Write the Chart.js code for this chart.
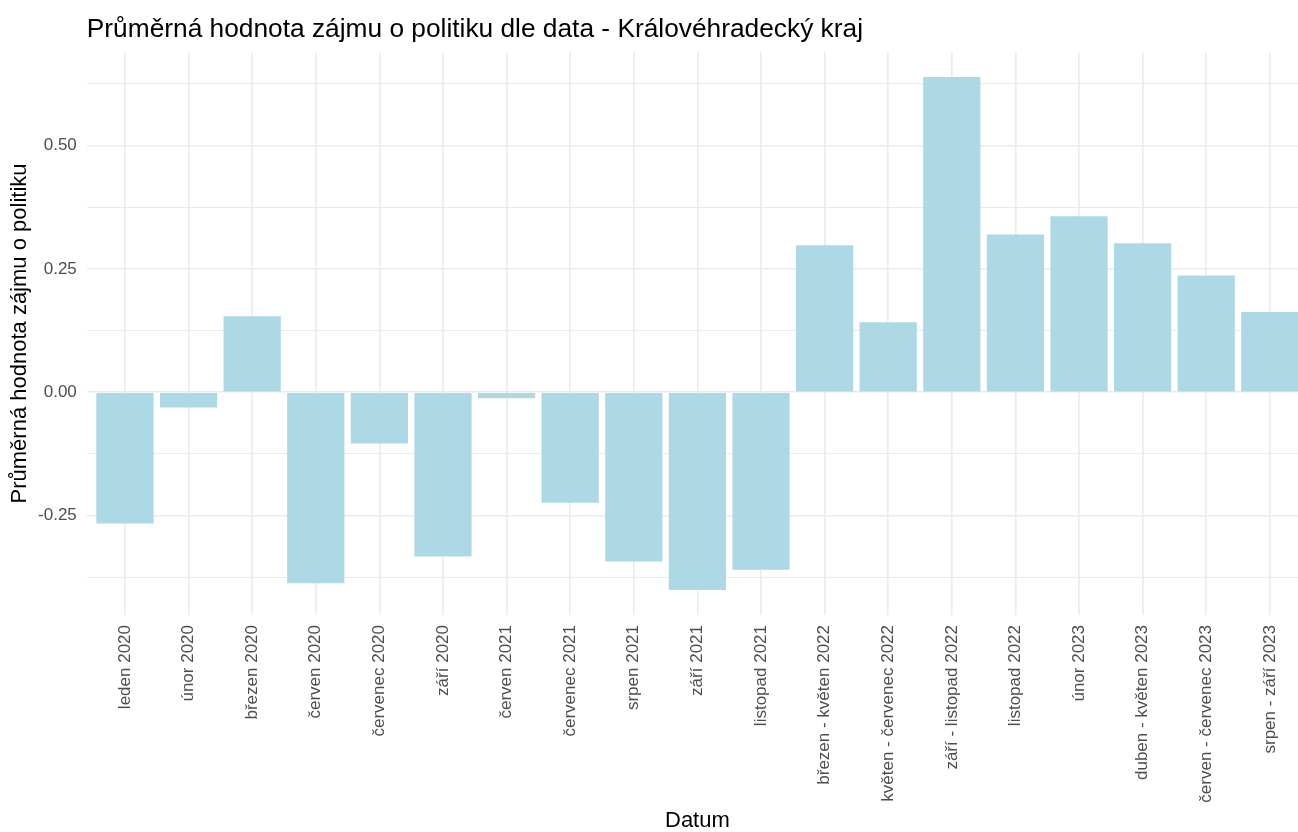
<!DOCTYPE html>
<html>
<head>
<meta charset="utf-8">
<script src="https://cdn.jsdelivr.net/npm/chart.js@4/dist/chart.umd.min.js"></script>
<style>
  html, body { margin: 0; padding: 0; background: #fff; overflow: hidden; }
  #wrap { width: 1298px; height: 832px; overflow: hidden; }
</style>
</head>
<body>
<div id="wrap"><canvas id="chart" width="1320" height="832"></canvas></div>
<script>
const TITLE = 'Průměrná hodnota zájmu o politiku dle data - Královéhradecký kraj';
const X_TITLE = 'Datum';
const Y_TITLE = 'Průměrná hodnota zájmu o politiku';

const CATEGORIES = [
  'leden 2020', 'únor 2020', 'březen 2020', 'červen 2020', 'červenec 2020',
  'září 2020', 'červen 2021', 'červenec 2021', 'srpen 2021', 'září 2021',
  'listopad 2021', 'březen - květen 2022', 'květen - červenec 2022',
  'září - listopad 2022', 'listopad 2022', 'únor 2023', 'duben - květen 2023',
  'červen - červenec 2023', 'srpen - září 2023'
];
const VALUES = [
  -0.266, -0.031, 0.154, -0.387, -0.104,
  -0.333, -0.012, -0.224, -0.343, -0.401,
  -0.360, 0.298, 0.142,
  0.639, 0.320, 0.357, 0.302,
  0.237, 0.163
];
const Y_MIN = -0.4515;
const Y_MAX = 0.690;
const Y_STEP = 0.125;

const GRID = '#EBEBEB';
const TICK_COLOR = '#4D4D4D';
const FONT = '"Liberation Sans", Arial, Helvetica, sans-serif';

const isMajor = v => Math.abs(Math.round(v / 0.25) * 0.25 - v) < 1e-6;

new Chart(document.getElementById('chart'), {
  type: 'bar',
  data: {
    datasets: [{
      data: CATEGORIES.map((c, i) => ({ x: i, y: VALUES[i] })),
      backgroundColor: '#ADD8E6',
      borderWidth: 0,
      barPercentage: 0.9,
      categoryPercentage: 1.0
    }]
  },
  options: {
    responsive: false,
    animation: false,
    layout: { padding: { left: 0, right: 12, top: 0, bottom: 0 } },
    plugins: {
      legend: { display: false },
      tooltip: { enabled: false },
      title: {
        display: true,
        text: TITLE,
        align: 'start',
        fullSize: false,
        color: '#000',
        font: { family: FONT, size: 26.3, weight: 'normal' },
        padding: { top: 14, bottom: 6.4 }
      }
    },
    scales: {
      x: {
        type: 'linear',
        min: -0.6,
        max: 18.6,
        offset: false,
        afterBuildTicks: s => { s.ticks = CATEGORIES.map((c, i) => ({ value: i })); },
        afterFit: s => { s.height = 217; },
        border: { display: false },
        grid: { color: GRID, lineWidth: 1.6, drawTicks: false, offset: false },
        ticks: {
          autoSkip: false,
          minRotation: 90,
          maxRotation: 90,
          padding: 10,
          color: TICK_COLOR,
          font: { family: FONT, size: 17 },
          callback: v => CATEGORIES[v]
        },
        title: {
          display: true,
          text: X_TITLE,
          color: '#000',
          font: { family: FONT, size: 22 },
          padding: { top: 0, bottom: -2.5 }
        }
      },
      y: {
        min: Y_MIN,
        max: Y_MAX,
        afterFit: s => { s.width = 86.8; },
        border: { display: false },
        grid: {
          color: GRID,
          lineWidth: ctx => (ctx.tick && isMajor(ctx.tick.value) ? 1.6 : 1.1),
          drawTicks: false
        },
        ticks: {
          stepSize: Y_STEP,
          includeBounds: false,
          padding: 10,
          color: TICK_COLOR,
          font: { family: FONT, size: 17 },
          callback: v => (isMajor(v) ? v.toFixed(2) : '')
        },
        title: {
          display: true,
          text: Y_TITLE,
          color: '#000',
          font: { family: FONT, size: 22 },
          padding: { top: 7, bottom: 0 }
        }
      }
    }
  }
});
</script>
</body>
</html>
